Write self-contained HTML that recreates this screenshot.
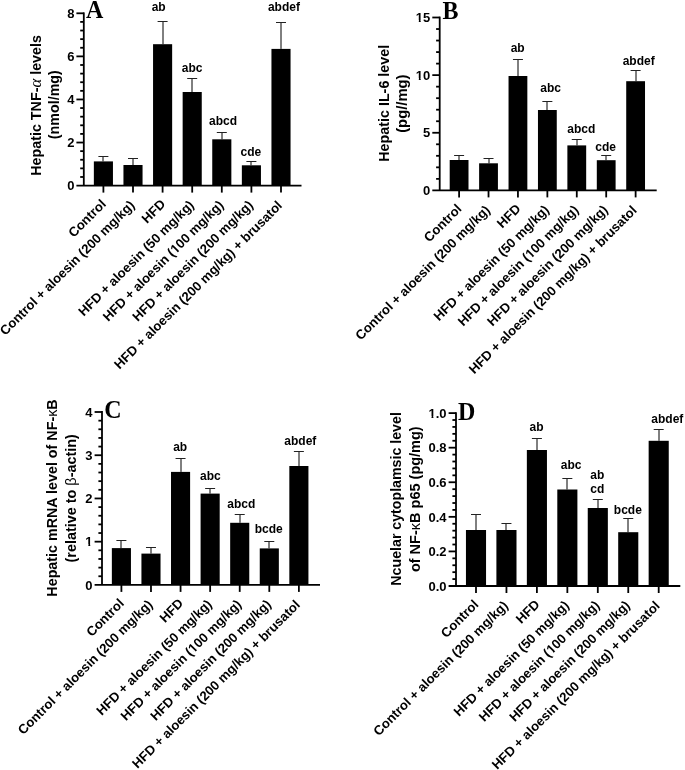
<!DOCTYPE html>
<html><head><meta charset="utf-8"><style>
html,body{margin:0;padding:0;background:#fff;}
svg{display:block;}
.b{font-family:'Liberation Sans', Arial, sans-serif;font-weight:bold;fill:#000;}
.s{font-family:'Liberation Serif', 'Times New Roman', serif;font-weight:bold;fill:#000;}
.ev{stroke:#000;stroke-width:1;}
.eh{stroke:#222;stroke-width:1;}
.g{font-weight:normal;}
.ga{font-family:'Liberation Serif', 'Times New Roman', serif;font-style:italic;font-weight:normal;font-size:117%;}
</style></head><body>
<svg width="685" height="770" viewBox="0 0 685 770">
<rect width="685" height="770" fill="#fff"/>
<line x1="83.80" y1="12.40" x2="83.80" y2="185.60" stroke="#000" stroke-width="1.8"/>
<line x1="76.40" y1="185.60" x2="301.50" y2="185.60" stroke="#000" stroke-width="1.8"/>
<text x="74.40" y="190.28" font-size="13" text-anchor="end" class="b">0</text>
<line x1="80.20" y1="176.98" x2="83.80" y2="176.98" stroke="#000" stroke-width="1.8"/>
<line x1="80.20" y1="168.37" x2="83.80" y2="168.37" stroke="#000" stroke-width="1.8"/>
<line x1="80.20" y1="159.75" x2="83.80" y2="159.75" stroke="#000" stroke-width="1.8"/>
<line x1="80.20" y1="151.14" x2="83.80" y2="151.14" stroke="#000" stroke-width="1.8"/>
<line x1="76.40" y1="142.53" x2="83.80" y2="142.53" stroke="#000" stroke-width="1.8"/>
<text x="74.40" y="147.21" font-size="13" text-anchor="end" class="b">2</text>
<line x1="80.20" y1="133.91" x2="83.80" y2="133.91" stroke="#000" stroke-width="1.8"/>
<line x1="80.20" y1="125.30" x2="83.80" y2="125.30" stroke="#000" stroke-width="1.8"/>
<line x1="80.20" y1="116.68" x2="83.80" y2="116.68" stroke="#000" stroke-width="1.8"/>
<line x1="80.20" y1="108.06" x2="83.80" y2="108.06" stroke="#000" stroke-width="1.8"/>
<line x1="76.40" y1="99.45" x2="83.80" y2="99.45" stroke="#000" stroke-width="1.8"/>
<text x="74.40" y="104.13" font-size="13" text-anchor="end" class="b">4</text>
<line x1="80.20" y1="90.84" x2="83.80" y2="90.84" stroke="#000" stroke-width="1.8"/>
<line x1="80.20" y1="82.22" x2="83.80" y2="82.22" stroke="#000" stroke-width="1.8"/>
<line x1="80.20" y1="73.61" x2="83.80" y2="73.61" stroke="#000" stroke-width="1.8"/>
<line x1="80.20" y1="64.99" x2="83.80" y2="64.99" stroke="#000" stroke-width="1.8"/>
<line x1="76.40" y1="56.38" x2="83.80" y2="56.38" stroke="#000" stroke-width="1.8"/>
<text x="74.40" y="61.05" font-size="13" text-anchor="end" class="b">6</text>
<line x1="80.20" y1="47.76" x2="83.80" y2="47.76" stroke="#000" stroke-width="1.8"/>
<line x1="80.20" y1="39.14" x2="83.80" y2="39.14" stroke="#000" stroke-width="1.8"/>
<line x1="80.20" y1="30.53" x2="83.80" y2="30.53" stroke="#000" stroke-width="1.8"/>
<line x1="80.20" y1="21.91" x2="83.80" y2="21.91" stroke="#000" stroke-width="1.8"/>
<line x1="76.40" y1="13.30" x2="83.80" y2="13.30" stroke="#000" stroke-width="1.8"/>
<text x="74.40" y="17.98" font-size="13" text-anchor="end" class="b">8</text>
<line x1="103" y1="156.50" x2="103" y2="161.40" class="ev"/>
<line x1="98.40" y1="156.50" x2="108.40" y2="156.50" class="eh"/>
<rect x="93.85" y="161.40" width="19.1" height="24.20" fill="#000"/>
<line x1="103.40" y1="185.60" x2="103.40" y2="192.60" stroke="#000" stroke-width="1.8"/>
<text transform="translate(106.75,204.95) rotate(-45)" font-size="13.16" text-anchor="end" class="b">Control</text>
<line x1="133" y1="158.50" x2="133" y2="165.00" class="ev"/>
<line x1="128.00" y1="158.50" x2="138.00" y2="158.50" class="eh"/>
<rect x="123.45" y="165.00" width="19.1" height="20.60" fill="#000"/>
<line x1="133.00" y1="185.60" x2="133.00" y2="192.60" stroke="#000" stroke-width="1.8"/>
<text transform="translate(135.32,205.98) rotate(-45)" font-size="13.16" text-anchor="end" class="b">Control + aloesin (200 mg/kg)</text>
<line x1="163" y1="21.50" x2="163" y2="44.20" class="ev"/>
<line x1="157.60" y1="21.50" x2="167.60" y2="21.50" class="eh"/>
<rect x="153.05" y="44.20" width="19.1" height="141.40" fill="#000"/>
<line x1="162.60" y1="185.60" x2="162.60" y2="192.60" stroke="#000" stroke-width="1.8"/>
<text transform="translate(166.10,204.80) rotate(-45)" font-size="13.16" text-anchor="end" class="b">HFD</text>
<line x1="192" y1="78.50" x2="192" y2="92.00" class="ev"/>
<line x1="187.20" y1="78.50" x2="197.20" y2="78.50" class="eh"/>
<rect x="182.65" y="92.00" width="19.1" height="93.60" fill="#000"/>
<line x1="192.20" y1="185.60" x2="192.20" y2="192.60" stroke="#000" stroke-width="1.8"/>
<text transform="translate(194.72,205.78) rotate(-45)" font-size="13.16" text-anchor="end" class="b">HFD + aloesin (50 mg/kg)</text>
<line x1="222" y1="132.50" x2="222" y2="139.30" class="ev"/>
<line x1="216.80" y1="132.50" x2="226.80" y2="132.50" class="eh"/>
<rect x="212.25" y="139.30" width="19.1" height="46.30" fill="#000"/>
<line x1="221.80" y1="185.60" x2="221.80" y2="192.60" stroke="#000" stroke-width="1.8"/>
<text transform="translate(224.26,205.84) rotate(-45)" font-size="13.16" text-anchor="end" class="b">HFD + aloesin (100 mg/kg)</text>
<line x1="251" y1="161.50" x2="251" y2="165.30" class="ev"/>
<line x1="246.40" y1="161.50" x2="256.40" y2="161.50" class="eh"/>
<rect x="241.85" y="165.30" width="19.1" height="20.30" fill="#000"/>
<line x1="251.40" y1="185.60" x2="251.40" y2="192.60" stroke="#000" stroke-width="1.8"/>
<text transform="translate(253.86,205.84) rotate(-45)" font-size="13.16" text-anchor="end" class="b">HFD + aloesin (200 mg/kg)</text>
<line x1="281" y1="22.50" x2="281" y2="48.90" class="ev"/>
<line x1="276.00" y1="22.50" x2="286.00" y2="22.50" class="eh"/>
<rect x="271.45" y="48.90" width="19.1" height="136.70" fill="#000"/>
<line x1="281.00" y1="185.60" x2="281.00" y2="192.60" stroke="#000" stroke-width="1.8"/>
<text transform="translate(282.96,206.34) rotate(-45)" font-size="13.16" text-anchor="end" class="b">HFD + aloesin (200 mg/kg) + brusatol</text>
<text x="151.64" y="11.10" font-size="12" class="b">ab</text>
<text x="181.74" y="71.50" font-size="12" class="b">abc</text>
<text x="209.04" y="125.20" font-size="12" class="b">abcd</text>
<text x="240.52" y="155.80" font-size="12" class="b">cde</text>
<text x="267.94" y="11.20" font-size="12" class="b">abdef</text>
<text transform="translate(41.00,105.40) rotate(-90)" font-size="14.3" text-anchor="middle" class="b">Hepatic TNF-<tspan class="ga">α</tspan> levels</text>
<text transform="translate(58.90,104.70) rotate(-90)" font-size="14.3" text-anchor="middle" class="b">(nmol/mg)</text>
<text transform="translate(86.06,17.90) scale(1,1.03)" font-size="24" class="s">A</text>
<line x1="439.70" y1="16.60" x2="439.70" y2="190.40" stroke="#000" stroke-width="1.8"/>
<line x1="432.30" y1="190.40" x2="656.70" y2="190.40" stroke="#000" stroke-width="1.8"/>
<text x="430.30" y="195.08" font-size="13" text-anchor="end" class="b">0</text>
<line x1="436.10" y1="178.87" x2="439.70" y2="178.87" stroke="#000" stroke-width="1.8"/>
<line x1="436.10" y1="167.35" x2="439.70" y2="167.35" stroke="#000" stroke-width="1.8"/>
<line x1="436.10" y1="155.82" x2="439.70" y2="155.82" stroke="#000" stroke-width="1.8"/>
<line x1="436.10" y1="144.29" x2="439.70" y2="144.29" stroke="#000" stroke-width="1.8"/>
<line x1="432.30" y1="132.77" x2="439.70" y2="132.77" stroke="#000" stroke-width="1.8"/>
<text x="430.30" y="137.45" font-size="13" text-anchor="end" class="b">5</text>
<line x1="436.10" y1="121.24" x2="439.70" y2="121.24" stroke="#000" stroke-width="1.8"/>
<line x1="436.10" y1="109.71" x2="439.70" y2="109.71" stroke="#000" stroke-width="1.8"/>
<line x1="436.10" y1="98.19" x2="439.70" y2="98.19" stroke="#000" stroke-width="1.8"/>
<line x1="436.10" y1="86.66" x2="439.70" y2="86.66" stroke="#000" stroke-width="1.8"/>
<line x1="432.30" y1="75.13" x2="439.70" y2="75.13" stroke="#000" stroke-width="1.8"/>
<text x="430.30" y="79.81" font-size="13" text-anchor="end" class="b">10</text>
<line x1="436.10" y1="63.61" x2="439.70" y2="63.61" stroke="#000" stroke-width="1.8"/>
<line x1="436.10" y1="52.08" x2="439.70" y2="52.08" stroke="#000" stroke-width="1.8"/>
<line x1="436.10" y1="40.55" x2="439.70" y2="40.55" stroke="#000" stroke-width="1.8"/>
<line x1="436.10" y1="29.03" x2="439.70" y2="29.03" stroke="#000" stroke-width="1.8"/>
<line x1="432.30" y1="17.50" x2="439.70" y2="17.50" stroke="#000" stroke-width="1.8"/>
<text x="430.30" y="22.18" font-size="13" text-anchor="end" class="b">15</text>
<line x1="459" y1="155.50" x2="459" y2="160.00" class="ev"/>
<line x1="454.10" y1="155.50" x2="464.10" y2="155.50" class="eh"/>
<rect x="449.70" y="160.00" width="18.8" height="30.40" fill="#000"/>
<line x1="459.10" y1="190.40" x2="459.10" y2="197.40" stroke="#000" stroke-width="1.8"/>
<text transform="translate(462.45,209.75) rotate(-45)" font-size="13.16" text-anchor="end" class="b">Control</text>
<line x1="489" y1="158.50" x2="489" y2="163.30" class="ev"/>
<line x1="483.52" y1="158.50" x2="493.52" y2="158.50" class="eh"/>
<rect x="479.12" y="163.30" width="18.8" height="27.10" fill="#000"/>
<line x1="488.52" y1="190.40" x2="488.52" y2="197.40" stroke="#000" stroke-width="1.8"/>
<text transform="translate(490.84,210.78) rotate(-45)" font-size="13.16" text-anchor="end" class="b">Control + aloesin (200 mg/kg)</text>
<line x1="518" y1="59.50" x2="518" y2="76.00" class="ev"/>
<line x1="512.94" y1="59.50" x2="522.94" y2="59.50" class="eh"/>
<rect x="508.54" y="76.00" width="18.8" height="114.40" fill="#000"/>
<line x1="517.94" y1="190.40" x2="517.94" y2="197.40" stroke="#000" stroke-width="1.8"/>
<text transform="translate(521.44,209.60) rotate(-45)" font-size="13.16" text-anchor="end" class="b">HFD</text>
<line x1="547" y1="101.50" x2="547" y2="110.00" class="ev"/>
<line x1="542.36" y1="101.50" x2="552.36" y2="101.50" class="eh"/>
<rect x="537.96" y="110.00" width="18.8" height="80.40" fill="#000"/>
<line x1="547.36" y1="190.40" x2="547.36" y2="197.40" stroke="#000" stroke-width="1.8"/>
<text transform="translate(549.88,210.58) rotate(-45)" font-size="13.16" text-anchor="end" class="b">HFD + aloesin (50 mg/kg)</text>
<line x1="577" y1="139.50" x2="577" y2="145.40" class="ev"/>
<line x1="571.78" y1="139.50" x2="581.78" y2="139.50" class="eh"/>
<rect x="567.38" y="145.40" width="18.8" height="45.00" fill="#000"/>
<line x1="576.78" y1="190.40" x2="576.78" y2="197.40" stroke="#000" stroke-width="1.8"/>
<text transform="translate(579.24,210.64) rotate(-45)" font-size="13.16" text-anchor="end" class="b">HFD + aloesin (100 mg/kg)</text>
<line x1="606" y1="155.50" x2="606" y2="160.20" class="ev"/>
<line x1="601.20" y1="155.50" x2="611.20" y2="155.50" class="eh"/>
<rect x="596.80" y="160.20" width="18.8" height="30.20" fill="#000"/>
<line x1="606.20" y1="190.40" x2="606.20" y2="197.40" stroke="#000" stroke-width="1.8"/>
<text transform="translate(608.66,210.64) rotate(-45)" font-size="13.16" text-anchor="end" class="b">HFD + aloesin (200 mg/kg)</text>
<line x1="636" y1="70.50" x2="636" y2="81.20" class="ev"/>
<line x1="630.62" y1="70.50" x2="640.62" y2="70.50" class="eh"/>
<rect x="626.22" y="81.20" width="18.8" height="109.20" fill="#000"/>
<line x1="635.62" y1="190.40" x2="635.62" y2="197.40" stroke="#000" stroke-width="1.8"/>
<text transform="translate(637.58,211.14) rotate(-45)" font-size="13.16" text-anchor="end" class="b">HFD + aloesin (200 mg/kg) + brusatol</text>
<text x="510.64" y="51.50" font-size="12" class="b">ab</text>
<text x="540.24" y="92.00" font-size="12" class="b">abc</text>
<text x="567.34" y="132.50" font-size="12" class="b">abcd</text>
<text x="595.32" y="150.80" font-size="12" class="b">cde</text>
<text x="622.64" y="65.00" font-size="12" class="b">abdef</text>
<text transform="translate(389.00,103.30) rotate(-90)" font-size="14.3" text-anchor="middle" class="b">Hepatic IL-6 level</text>
<text transform="translate(407.40,103.65) rotate(-90)" font-size="14.8" text-anchor="middle" class="b">(pg//mg)</text>
<text transform="translate(442.50,19.00) scale(1,1.03)" font-size="24" class="s">B</text>
<line x1="102.00" y1="411.10" x2="102.00" y2="584.90" stroke="#000" stroke-width="1.8"/>
<line x1="94.60" y1="584.90" x2="320.00" y2="584.90" stroke="#000" stroke-width="1.8"/>
<text x="92.60" y="589.58" font-size="13" text-anchor="end" class="b">0</text>
<line x1="98.40" y1="576.25" x2="102.00" y2="576.25" stroke="#000" stroke-width="1.8"/>
<line x1="98.40" y1="567.61" x2="102.00" y2="567.61" stroke="#000" stroke-width="1.8"/>
<line x1="98.40" y1="558.97" x2="102.00" y2="558.97" stroke="#000" stroke-width="1.8"/>
<line x1="98.40" y1="550.32" x2="102.00" y2="550.32" stroke="#000" stroke-width="1.8"/>
<line x1="94.60" y1="541.67" x2="102.00" y2="541.67" stroke="#000" stroke-width="1.8"/>
<text x="92.60" y="546.35" font-size="13" text-anchor="end" class="b">1</text>
<line x1="98.40" y1="533.03" x2="102.00" y2="533.03" stroke="#000" stroke-width="1.8"/>
<line x1="98.40" y1="524.38" x2="102.00" y2="524.38" stroke="#000" stroke-width="1.8"/>
<line x1="98.40" y1="515.74" x2="102.00" y2="515.74" stroke="#000" stroke-width="1.8"/>
<line x1="98.40" y1="507.09" x2="102.00" y2="507.09" stroke="#000" stroke-width="1.8"/>
<line x1="94.60" y1="498.45" x2="102.00" y2="498.45" stroke="#000" stroke-width="1.8"/>
<text x="92.60" y="503.13" font-size="13" text-anchor="end" class="b">2</text>
<line x1="98.40" y1="489.81" x2="102.00" y2="489.81" stroke="#000" stroke-width="1.8"/>
<line x1="98.40" y1="481.16" x2="102.00" y2="481.16" stroke="#000" stroke-width="1.8"/>
<line x1="98.40" y1="472.51" x2="102.00" y2="472.51" stroke="#000" stroke-width="1.8"/>
<line x1="98.40" y1="463.87" x2="102.00" y2="463.87" stroke="#000" stroke-width="1.8"/>
<line x1="94.60" y1="455.23" x2="102.00" y2="455.23" stroke="#000" stroke-width="1.8"/>
<text x="92.60" y="459.91" font-size="13" text-anchor="end" class="b">3</text>
<line x1="98.40" y1="446.58" x2="102.00" y2="446.58" stroke="#000" stroke-width="1.8"/>
<line x1="98.40" y1="437.94" x2="102.00" y2="437.94" stroke="#000" stroke-width="1.8"/>
<line x1="98.40" y1="429.29" x2="102.00" y2="429.29" stroke="#000" stroke-width="1.8"/>
<line x1="98.40" y1="420.65" x2="102.00" y2="420.65" stroke="#000" stroke-width="1.8"/>
<line x1="94.60" y1="412.00" x2="102.00" y2="412.00" stroke="#000" stroke-width="1.8"/>
<text x="92.60" y="416.68" font-size="13" text-anchor="end" class="b">4</text>
<line x1="121" y1="540.50" x2="121" y2="548.10" class="ev"/>
<line x1="116.40" y1="540.50" x2="126.40" y2="540.50" class="eh"/>
<rect x="111.85" y="548.10" width="19.1" height="36.80" fill="#000"/>
<line x1="121.40" y1="584.90" x2="121.40" y2="591.90" stroke="#000" stroke-width="1.8"/>
<text transform="translate(124.75,604.25) rotate(-45)" font-size="13.16" text-anchor="end" class="b">Control</text>
<line x1="151" y1="547.50" x2="151" y2="553.60" class="ev"/>
<line x1="145.98" y1="547.50" x2="155.98" y2="547.50" class="eh"/>
<rect x="141.43" y="553.60" width="19.1" height="31.30" fill="#000"/>
<line x1="150.98" y1="584.90" x2="150.98" y2="591.90" stroke="#000" stroke-width="1.8"/>
<text transform="translate(153.30,605.28) rotate(-45)" font-size="13.16" text-anchor="end" class="b">Control + aloesin (200 mg/kg)</text>
<line x1="181" y1="458.50" x2="181" y2="471.90" class="ev"/>
<line x1="175.56" y1="458.50" x2="185.56" y2="458.50" class="eh"/>
<rect x="171.01" y="471.90" width="19.1" height="113.00" fill="#000"/>
<line x1="180.56" y1="584.90" x2="180.56" y2="591.90" stroke="#000" stroke-width="1.8"/>
<text transform="translate(184.06,604.10) rotate(-45)" font-size="13.16" text-anchor="end" class="b">HFD</text>
<line x1="210" y1="488.50" x2="210" y2="493.60" class="ev"/>
<line x1="205.14" y1="488.50" x2="215.14" y2="488.50" class="eh"/>
<rect x="200.59" y="493.60" width="19.1" height="91.30" fill="#000"/>
<line x1="210.14" y1="584.90" x2="210.14" y2="591.90" stroke="#000" stroke-width="1.8"/>
<text transform="translate(212.66,605.08) rotate(-45)" font-size="13.16" text-anchor="end" class="b">HFD + aloesin (50 mg/kg)</text>
<line x1="240" y1="514.50" x2="240" y2="522.80" class="ev"/>
<line x1="234.72" y1="514.50" x2="244.72" y2="514.50" class="eh"/>
<rect x="230.17" y="522.80" width="19.1" height="62.10" fill="#000"/>
<line x1="239.72" y1="584.90" x2="239.72" y2="591.90" stroke="#000" stroke-width="1.8"/>
<text transform="translate(242.18,605.14) rotate(-45)" font-size="13.16" text-anchor="end" class="b">HFD + aloesin (100 mg/kg)</text>
<line x1="269" y1="541.50" x2="269" y2="548.40" class="ev"/>
<line x1="264.30" y1="541.50" x2="274.30" y2="541.50" class="eh"/>
<rect x="259.75" y="548.40" width="19.1" height="36.50" fill="#000"/>
<line x1="269.30" y1="584.90" x2="269.30" y2="591.90" stroke="#000" stroke-width="1.8"/>
<text transform="translate(271.76,605.14) rotate(-45)" font-size="13.16" text-anchor="end" class="b">HFD + aloesin (200 mg/kg)</text>
<line x1="299" y1="451.50" x2="299" y2="466.00" class="ev"/>
<line x1="293.88" y1="451.50" x2="303.88" y2="451.50" class="eh"/>
<rect x="289.33" y="466.00" width="19.1" height="118.90" fill="#000"/>
<line x1="298.88" y1="584.90" x2="298.88" y2="591.90" stroke="#000" stroke-width="1.8"/>
<text transform="translate(300.84,605.64) rotate(-45)" font-size="13.16" text-anchor="end" class="b">HFD + aloesin (200 mg/kg) + brusatol</text>
<text x="173.14" y="451.00" font-size="12" class="b">ab</text>
<text x="200.04" y="480.30" font-size="12" class="b">abc</text>
<text x="227.34" y="507.60" font-size="12" class="b">abcd</text>
<text x="254.66" y="532.80" font-size="12" class="b">bcde</text>
<text x="284.34" y="445.20" font-size="12" class="b">abdef</text>
<text transform="translate(57.40,498.00) rotate(-90)" font-size="14.3" text-anchor="middle" class="b">Hepatic mRNA level of NF-<tspan class="g">κ</tspan>B</text>
<text transform="translate(76.30,498.30) rotate(-90)" font-size="14.4" text-anchor="middle" class="b">(relative to <tspan class="g">β</tspan>-actin)</text>
<text transform="translate(104.20,418.00) scale(1,1.03)" font-size="24" class="s">C</text>
<line x1="456.00" y1="412.20" x2="456.00" y2="586.00" stroke="#000" stroke-width="1.8"/>
<line x1="448.60" y1="586.00" x2="680.30" y2="586.00" stroke="#000" stroke-width="1.8"/>
<text x="446.60" y="590.68" font-size="13" text-anchor="end" class="b">0.0</text>
<line x1="452.40" y1="579.08" x2="456.00" y2="579.08" stroke="#000" stroke-width="1.8"/>
<line x1="452.40" y1="572.17" x2="456.00" y2="572.17" stroke="#000" stroke-width="1.8"/>
<line x1="452.40" y1="565.25" x2="456.00" y2="565.25" stroke="#000" stroke-width="1.8"/>
<line x1="452.40" y1="558.34" x2="456.00" y2="558.34" stroke="#000" stroke-width="1.8"/>
<line x1="448.60" y1="551.42" x2="456.00" y2="551.42" stroke="#000" stroke-width="1.8"/>
<text x="446.60" y="556.10" font-size="13" text-anchor="end" class="b">0.2</text>
<line x1="452.40" y1="544.50" x2="456.00" y2="544.50" stroke="#000" stroke-width="1.8"/>
<line x1="452.40" y1="537.59" x2="456.00" y2="537.59" stroke="#000" stroke-width="1.8"/>
<line x1="452.40" y1="530.67" x2="456.00" y2="530.67" stroke="#000" stroke-width="1.8"/>
<line x1="452.40" y1="523.76" x2="456.00" y2="523.76" stroke="#000" stroke-width="1.8"/>
<line x1="448.60" y1="516.84" x2="456.00" y2="516.84" stroke="#000" stroke-width="1.8"/>
<text x="446.60" y="521.52" font-size="13" text-anchor="end" class="b">0.4</text>
<line x1="452.40" y1="509.92" x2="456.00" y2="509.92" stroke="#000" stroke-width="1.8"/>
<line x1="452.40" y1="503.01" x2="456.00" y2="503.01" stroke="#000" stroke-width="1.8"/>
<line x1="452.40" y1="496.09" x2="456.00" y2="496.09" stroke="#000" stroke-width="1.8"/>
<line x1="452.40" y1="489.18" x2="456.00" y2="489.18" stroke="#000" stroke-width="1.8"/>
<line x1="448.60" y1="482.26" x2="456.00" y2="482.26" stroke="#000" stroke-width="1.8"/>
<text x="446.60" y="486.94" font-size="13" text-anchor="end" class="b">0.6</text>
<line x1="452.40" y1="475.34" x2="456.00" y2="475.34" stroke="#000" stroke-width="1.8"/>
<line x1="452.40" y1="468.43" x2="456.00" y2="468.43" stroke="#000" stroke-width="1.8"/>
<line x1="452.40" y1="461.51" x2="456.00" y2="461.51" stroke="#000" stroke-width="1.8"/>
<line x1="452.40" y1="454.60" x2="456.00" y2="454.60" stroke="#000" stroke-width="1.8"/>
<line x1="448.60" y1="447.68" x2="456.00" y2="447.68" stroke="#000" stroke-width="1.8"/>
<text x="446.60" y="452.36" font-size="13" text-anchor="end" class="b">0.8</text>
<line x1="452.40" y1="440.76" x2="456.00" y2="440.76" stroke="#000" stroke-width="1.8"/>
<line x1="452.40" y1="433.85" x2="456.00" y2="433.85" stroke="#000" stroke-width="1.8"/>
<line x1="452.40" y1="426.93" x2="456.00" y2="426.93" stroke="#000" stroke-width="1.8"/>
<line x1="452.40" y1="420.02" x2="456.00" y2="420.02" stroke="#000" stroke-width="1.8"/>
<line x1="448.60" y1="413.10" x2="456.00" y2="413.10" stroke="#000" stroke-width="1.8"/>
<text x="446.60" y="417.78" font-size="13" text-anchor="end" class="b">1.0</text>
<line x1="476" y1="514.50" x2="476" y2="530.00" class="ev"/>
<line x1="471.00" y1="514.50" x2="481.00" y2="514.50" class="eh"/>
<rect x="465.95" y="530.00" width="20.1" height="56.00" fill="#000"/>
<line x1="476.00" y1="586.00" x2="476.00" y2="593.00" stroke="#000" stroke-width="1.8"/>
<text transform="translate(479.35,605.35) rotate(-45)" font-size="13.16" text-anchor="end" class="b">Control</text>
<line x1="506" y1="523.50" x2="506" y2="530.00" class="ev"/>
<line x1="501.45" y1="523.50" x2="511.45" y2="523.50" class="eh"/>
<rect x="496.40" y="530.00" width="20.1" height="56.00" fill="#000"/>
<line x1="506.45" y1="586.00" x2="506.45" y2="593.00" stroke="#000" stroke-width="1.8"/>
<text transform="translate(508.77,606.38) rotate(-45)" font-size="13.16" text-anchor="end" class="b">Control + aloesin (200 mg/kg)</text>
<line x1="537" y1="438.50" x2="537" y2="450.00" class="ev"/>
<line x1="531.90" y1="438.50" x2="541.90" y2="438.50" class="eh"/>
<rect x="526.85" y="450.00" width="20.1" height="136.00" fill="#000"/>
<line x1="536.90" y1="586.00" x2="536.90" y2="593.00" stroke="#000" stroke-width="1.8"/>
<text transform="translate(540.40,605.20) rotate(-45)" font-size="13.16" text-anchor="end" class="b">HFD</text>
<line x1="567" y1="478.50" x2="567" y2="489.50" class="ev"/>
<line x1="562.35" y1="478.50" x2="572.35" y2="478.50" class="eh"/>
<rect x="557.30" y="489.50" width="20.1" height="96.50" fill="#000"/>
<line x1="567.35" y1="586.00" x2="567.35" y2="593.00" stroke="#000" stroke-width="1.8"/>
<text transform="translate(569.87,606.18) rotate(-45)" font-size="13.16" text-anchor="end" class="b">HFD + aloesin (50 mg/kg)</text>
<line x1="598" y1="499.50" x2="598" y2="508.00" class="ev"/>
<line x1="592.80" y1="499.50" x2="602.80" y2="499.50" class="eh"/>
<rect x="587.75" y="508.00" width="20.1" height="78.00" fill="#000"/>
<line x1="597.80" y1="586.00" x2="597.80" y2="593.00" stroke="#000" stroke-width="1.8"/>
<text transform="translate(600.26,606.24) rotate(-45)" font-size="13.16" text-anchor="end" class="b">HFD + aloesin (100 mg/kg)</text>
<line x1="628" y1="518.50" x2="628" y2="532.20" class="ev"/>
<line x1="623.25" y1="518.50" x2="633.25" y2="518.50" class="eh"/>
<rect x="618.20" y="532.20" width="20.1" height="53.80" fill="#000"/>
<line x1="628.25" y1="586.00" x2="628.25" y2="593.00" stroke="#000" stroke-width="1.8"/>
<text transform="translate(630.71,606.24) rotate(-45)" font-size="13.16" text-anchor="end" class="b">HFD + aloesin (200 mg/kg)</text>
<line x1="659" y1="429.50" x2="659" y2="440.80" class="ev"/>
<line x1="653.70" y1="429.50" x2="663.70" y2="429.50" class="eh"/>
<rect x="648.65" y="440.80" width="20.1" height="145.20" fill="#000"/>
<line x1="658.70" y1="586.00" x2="658.70" y2="593.00" stroke="#000" stroke-width="1.8"/>
<text transform="translate(660.66,606.74) rotate(-45)" font-size="13.16" text-anchor="end" class="b">HFD + aloesin (200 mg/kg) + brusatol</text>
<text x="529.54" y="430.50" font-size="12" class="b">ab</text>
<text x="560.74" y="469.20" font-size="12" class="b">abc</text>
<text x="590.34" y="478.60" font-size="12" class="b">ab</text>
<text x="590.22" y="492.70" font-size="12" class="b">cd</text>
<text x="613.86" y="514.10" font-size="12" class="b">bcde</text>
<text x="651.34" y="422.80" font-size="12" class="b">abdef</text>
<text transform="translate(400.70,498.90) rotate(-90)" font-size="14.2" text-anchor="middle" class="b">Ncuelar cytoplamsic level</text>
<text transform="translate(419.50,499.20) rotate(-90)" font-size="14.5" text-anchor="middle" class="b">of NF-<tspan class="g">κ</tspan>B p65 (pg/mg)</text>
<text transform="translate(457.90,419.90) scale(1,1.03)" font-size="24" class="s">D</text>
<g fill="#fff" transform="translate(224.26,205.84) rotate(-45)"><rect x="-68.62" y="-1.79" width="2.89" height="2.39"/><rect x="-63.82" y="-1.79" width="2.73" height="2.39"/></g>
<g fill="#fff"><rect x="416.00" y="78.00" width="2.82" height="3.00"/><rect x="420.70" y="78.00" width="2.30" height="3.00"/></g>
<g fill="#fff"><rect x="416.00" y="20.00" width="2.82" height="3.00"/><rect x="420.70" y="20.00" width="2.30" height="3.00"/></g>
<g fill="#fff" transform="translate(579.24,210.64) rotate(-45)"><rect x="-68.62" y="-1.79" width="2.89" height="2.39"/><rect x="-63.82" y="-1.79" width="2.73" height="2.39"/></g>
<g fill="#fff"><rect x="85.00" y="544.00" width="3.35" height="3.00"/><rect x="90.23" y="544.00" width="2.77" height="3.00"/></g>
<g fill="#fff" transform="translate(242.18,605.14) rotate(-45)"><rect x="-68.62" y="-1.79" width="2.89" height="2.39"/><rect x="-63.82" y="-1.79" width="2.73" height="2.39"/></g>
<g fill="#fff"><rect x="429.00" y="416.00" width="2.51" height="3.00"/><rect x="433.39" y="416.00" width="2.61" height="3.00"/></g>
<g fill="#fff" transform="translate(600.26,606.24) rotate(-45)"><rect x="-68.62" y="-1.79" width="2.89" height="2.39"/><rect x="-63.82" y="-1.79" width="2.73" height="2.39"/></g>
</svg>
</body></html>
